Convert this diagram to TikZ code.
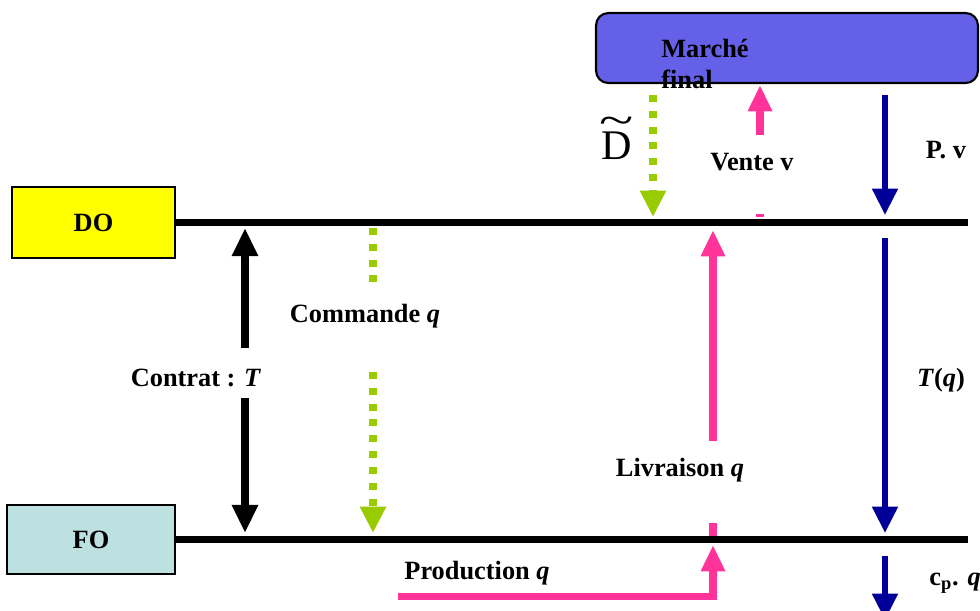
\documentclass[tikz,border=0pt]{standalone}
\usepackage{fontspec}
\setmainfont{Liberation Serif}
\usetikzlibrary{arrows.meta}
\definecolor{jaune}{RGB}{255,255,0}
\definecolor{turquoise}{RGB}{189,224,224}
\definecolor{violet}{RGB}{100,96,232}
\definecolor{rose}{RGB}{255,51,153}
\definecolor{vertpomme}{RGB}{153,204,0}
\definecolor{marine}{RGB}{0,0,153}
\begin{document}
\begin{tikzpicture}[x=0.02cm,y=-0.02cm,font=\fontsize{15}{17.5}\selectfont\bfseries]
            \tikzstyle{acteur}=[draw,line width=0.8pt,inner sep=0pt]
            \tikzset{ligne/.style = {line width=4.5pt}}
            \tikzset{noire/.style = {line width=4pt,-{Triangle[width=14pt,length=16pt]}}}
            \tikzset{flux/.style = {line width=4pt,rose,-{Triangle[width=13pt,length=15pt]}}}
            \tikzset{info/.style = {line width=4pt,vertpomme,dash pattern=on 4pt off 5pt,-{Triangle[width=14pt,length=15pt]}}}
            \tikzset{argent/.style = {line width=3.4pt,marine,-{Triangle[width=14pt,length=15pt]}}}
            \clip (0,0) rectangle (980,610);
            \node[acteur,fill=jaune,minimum width=3.26cm,minimum height=1.42cm] (DO) at (93.5,222.5) {DO};
            \node[acteur,fill=turquoise,minimum width=3.36cm,minimum height=1.38cm] (FO) at (91,539.5) {FO};
            \node[acteur,fill=violet,rounded corners=7pt,line width=1.2pt,minimum width=7.64cm,minimum height=1.4cm] (marche) at (787,48) {};
            \node[align=left,anchor=base west,inner sep=0pt] (final) at (661,88) {Marché\\final};
            \coordinate (doend) at (968,221);
            \coordinate (foend) at (968,540);
            \draw[ligne] (DO.east) -- (DO.east -| doend);
            \draw[ligne] (FO.east) -- (FO.east -| foend);
            % contrat
            \node (contrat) at (196,378) {Contrat : \textit{T}};
            \coordinate (k1) at (245,348);
            \coordinate (k2) at (245,398);
            \draw[noire] (k1) -- (245,228);
            \draw[noire] (k2) -- (245,533);
            % commande
            \node (commande) at (365,316) {Commande \textit{q}};
            \draw[info,-] (373,228) -- (373,285);
            \draw[info] (373,372) -- (373,533);
            % demande
            \node[font=\normalfont\fontsize{24}{24}\selectfont,inner sep=0pt] (D) at (617,146)
              {\ooalign{D\cr\hidewidth\raisebox{0.6em}{\scalebox{1.5}[1]{\textasciitilde}}\hidewidth\cr}};
            \draw[info] (653,95) -- (653,217);
            % vente
            \node (vente) at (752,162) {Vente v};
            \draw[flux] (760,135) -- (760,85);
            \draw[flux,-] (760,214) -- (760,217);
            % livraison / production
            \node (livraison) at (680,470) {Livraison \textit{q}};
            \node (production) at (477,573) {Production \textit{q}};
            \draw[flux] (398,596) -| (713,545);
            \draw[flux,-] (713,523) -- (713,536);
            \draw[flux] (713,441) -- (713,230);
            % paiements
            \node (pv) at (946,150) {P. v};
            \node (tq) at (941,380) {\textit{T}(\textit{q})};
            \node (cpq) at (955,583) {c\textsubscript{p}. \textit{q}};
            \draw[argent] (885,95) -- (885,215);
            \draw[argent] (885,238) -- (885,533);
            \draw[argent] (885,556) -- (885,620);
        \end{tikzpicture}
\end{document}
